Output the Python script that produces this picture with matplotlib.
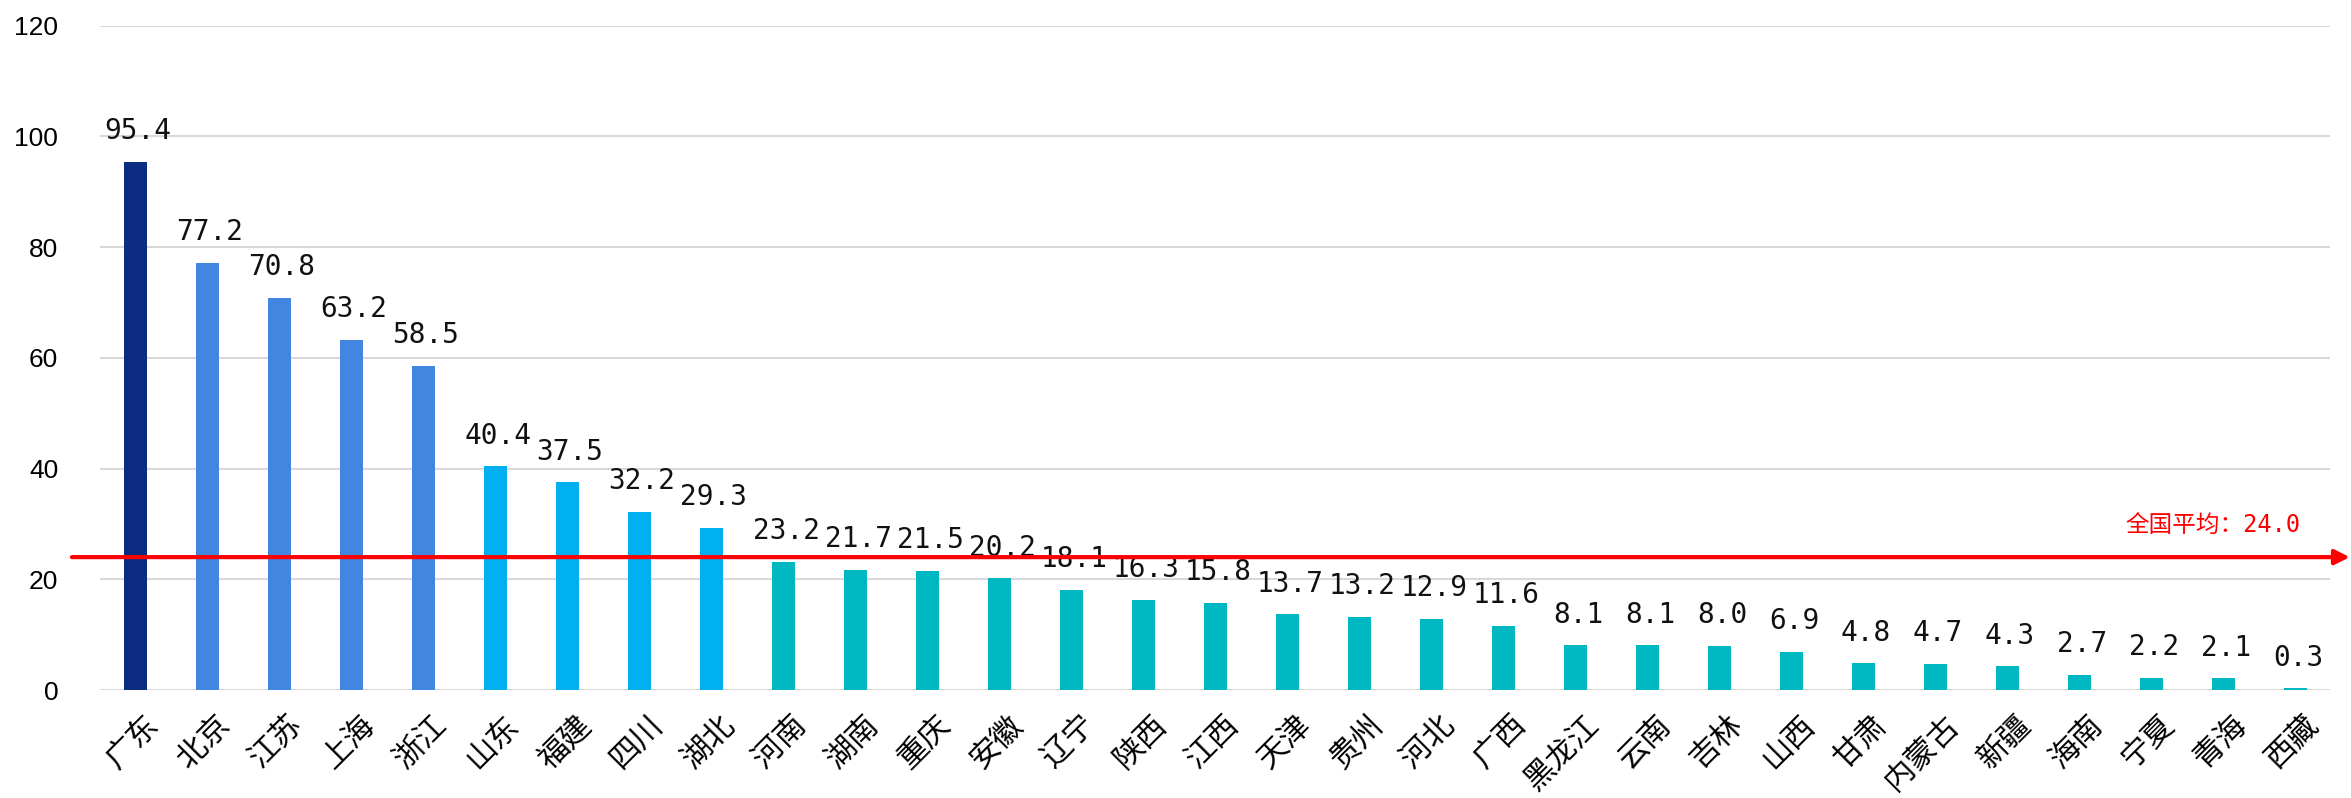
import matplotlib
matplotlib.use("Agg")
import matplotlib.pyplot as plt
import matplotlib.transforms as mtransforms

plt.rcParams['font.family'] = ['Noto Sans CJK SC', 'DejaVu Sans']

provinces = ['广东', '北京', '江苏', '上海', '浙江', '山东', '福建', '四川', '湖北', '河南',
             '湖南', '重庆', '安徽', '辽宁', '陕西', '江西', '天津', '贵州', '河北', '广西',
             '黑龙江', '云南', '吉林', '山西', '甘肃', '内蒙古', '新疆', '海南', '宁夏', '青海', '西藏']
values = [95.4, 77.2, 70.8, 63.2, 58.5, 40.4, 37.5, 32.2, 29.3, 23.2,
          21.7, 21.5, 20.2, 18.1, 16.3, 15.8, 13.7, 13.2, 12.9, 11.6,
          8.1, 8.1, 8.0, 6.9, 4.8, 4.7, 4.3, 2.7, 2.2, 2.1, 0.3]
group_sizes = [1, 4, 4, 22]
group_colors = ['#0B2C80', '#4286E2', '#00B0F0', '#00B8C2']
national_avg = 24.0

colors = []
for n, c in zip(group_sizes, group_colors):
    colors += [c] * n

fig = plt.figure(figsize=(23.51, 7.98), dpi=100)
ax = fig.add_axes([0.0425, 0.1353, 0.9485, 0.8327])

x = range(len(provinces))
ax.bar(x, values, width=0.32, color=colors, zorder=3)
num_font = ['DejaVu Sans Mono', 'Noto Sans CJK SC']
for xi, v in zip(x, values):
    ax.annotate(f'{v:.1f}', (xi, v), xytext=(2, 12), textcoords='offset points',
                ha='center', va='bottom', fontsize=20, color='#111111',
                family=num_font, zorder=5)

ax.set_xlim(-0.49, 30.48)
ax.set_ylim(0, 120)
ax.set_yticks(range(0, 121, 20))
ax.yaxis.grid(True, color='#D9D9D9', lw=1.5, zorder=0)
ax.set_axisbelow(True)
for s in ax.spines.values():
    s.set_visible(False)
ax.tick_params(axis='both', length=0)
ax.tick_params(axis='y', labelsize=19, pad=30)
for lab in ax.get_yticklabels():
    lab.set_family(['Liberation Sans', 'DejaVu Sans'])
ax.set_xticks(list(x))
ax.set_xticklabels(provinces, rotation=45, ha='right', rotation_mode='anchor', fontsize=22)
ax.tick_params(axis='x', pad=14)
shift = mtransforms.ScaledTranslation(8 / 100, 0, fig.dpi_scale_trans)
for lab in ax.get_xticklabels():
    lab.set_transform(lab.get_transform() + shift)

# national average line with arrow
ax.annotate('', xy=(0.9995, national_avg), xycoords=('figure fraction', 'data'),
            xytext=(0.0306, national_avg), textcoords=('figure fraction', 'data'),
            arrowprops=dict(arrowstyle='-|>', color='#FF0000', lw=3, mutation_scale=22,
                            shrinkA=0, shrinkB=0),
            annotation_clip=False, zorder=6)
ax.text(0.987, national_avg + 3.5, f'全国平均：{national_avg:.1f}', color='#FF0000',
        fontsize=17, ha='right', va='bottom', family=num_font, zorder=6,
        transform=mtransforms.blended_transform_factory(ax.transAxes, ax.transData))

fig.savefig('out.png', dpi=100)
